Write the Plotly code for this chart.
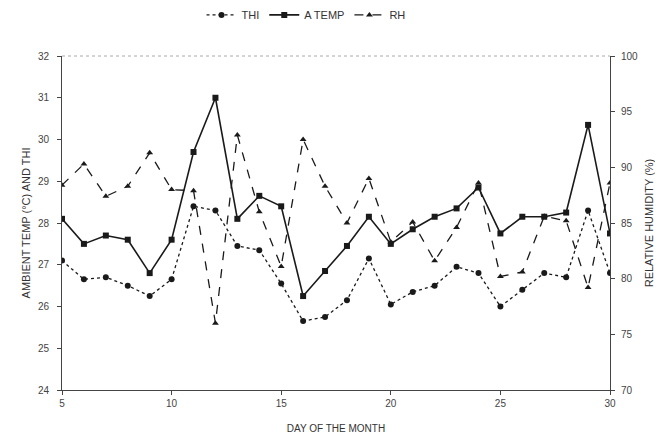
import plotly.graph_objects as go

days = list(range(5, 31))
thi = [27.1, 26.65, 26.7, 26.5, 26.25, 26.65, 28.4, 28.3, 27.45, 27.35,
       26.55, 25.65, 25.75, 26.15, 27.15, 26.05, 26.35, 26.5, 26.95, 26.8,
       26.0, 26.4, 26.8, 26.7, 28.3, 26.8]
a_temp = [28.1, 27.5, 27.7, 27.6, 26.8, 27.6, 29.7, 31.0, 28.1, 28.65,
          28.4, 26.25, 26.85, 27.45, 28.15, 27.5, 27.85, 28.15, 28.35, 28.85,
          27.75, 28.15, 28.15, 28.25, 30.35, 27.75]
rh = [88.4, 90.3, 87.4, 88.3, 91.3, 88.0, 87.9, 76.0, 92.9, 86.0,
      81.1, 92.5, 88.3, 85.0, 89.0, 83.3, 85.1, 81.6, 84.6, 88.6,
      80.2, 80.6, 85.6, 85.2, 79.2, 88.6]

left_ticks = [24, 25, 26, 27, 28, 29, 30, 31, 32]
right_ticks = [70, 75, 80, 85, 90, 95, 100]
x_ticks = [5, 10, 15, 20, 25, 30]

FONT = "Liberation Sans, Arial, sans-serif"
ink = "#1a1a1a"

fig = go.Figure()
fig.add_trace(go.Scatter(
    x=days, y=thi, name="THI", mode="lines+markers",
    line=dict(color=ink, width=1.3, dash="dot"),
    marker=dict(symbol="circle", size=6, color=ink),
))
fig.add_trace(go.Scatter(
    x=days, y=a_temp, name="A TEMP", mode="lines+markers",
    line=dict(color=ink, width=1.6),
    marker=dict(symbol="square", size=6, color=ink),
))
fig.add_trace(go.Scatter(
    x=days, y=rh, name="RH", mode="lines+markers", yaxis="y2",
    line=dict(color=ink, width=1.3, dash="dash"),
    marker=dict(symbol="triangle-up", size=6, color=ink),
))

fig.update_layout(
    width=655, height=430,
    margin=dict(l=54, r=53, t=48, b=48, autoexpand=False),
    paper_bgcolor="white", plot_bgcolor="white",
    font=dict(family=FONT, size=10, color="#333"),
    showlegend=True,
    legend=dict(orientation="h", x=0.455, xref="container", xanchor="center",
                y=0.984, yref="container", yanchor="middle",
                font=dict(size=11, color="#333"), bgcolor="rgba(0,0,0,0)",
                traceorder="normal"),
    xaxis=dict(range=[5, 30], tickvals=x_ticks, showline=True, linecolor="#444",
               linewidth=1, ticks="outside", ticklen=4, tickcolor="#444",
               showgrid=False, zeroline=False, automargin=False,
               title=dict(text="DAY OF THE MONTH", font=dict(size=10, color="#333"), standoff=16),
               tickfont=dict(size=10, color="#444")),
    yaxis=dict(range=[24, 32], tickvals=left_ticks, showline=True, linecolor="#444",
               linewidth=1, ticks="outside", ticklen=4, tickcolor="#444",
               showgrid=False, zeroline=False, automargin=False,
               ticklabelstandoff=6,
               title=dict(text="AMBIENT TEMP (°C) AND THI", font=dict(size=11, color="#333"), standoff=5),
               tickfont=dict(size=10, color="#444")),
    yaxis2=dict(range=[70, 100], tickvals=right_ticks, overlaying="y", side="right",
                showline=True, linecolor="#444", linewidth=1, ticks="outside",
                ticklen=4, tickcolor="#444", showgrid=False, zeroline=False,
                automargin=False, ticklabelstandoff=4,
                title=dict(text="RELATIVE HUMIDITY (%)", font=dict(size=11, color="#333"), standoff=8),
                tickfont=dict(size=10, color="#444")),
    shapes=[dict(type="line", xref="paper", yref="paper", x0=0, x1=1, y0=1, y1=1,
                 line=dict(color="#aaa", width=1, dash="dot"))],
)

fig.write_html("out.html")
